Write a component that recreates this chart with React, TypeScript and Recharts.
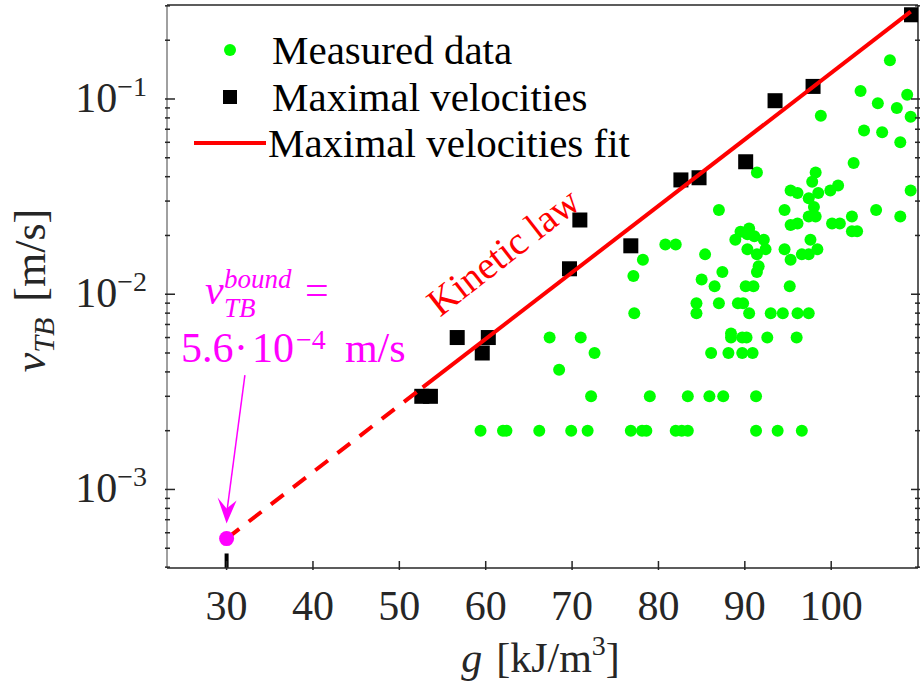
import { ScatterChart, Scatter, XAxis, YAxis, Legend, ReferenceLine, ReferenceDot } from 'recharts';

const FONT = '"Liberation Serif", "Times New Roman", serif';
const INK = '#262626';
const GREEN = '#00ff00';
const RED = '#ff0000';
const MAGENTA = '#ff00ff';

const X_DOMAIN = [23.1, 110.05];
const Y_DOMAIN = [3.96e-4, 0.303];
const X_TICKS = [30, 40, 50, 60, 70, 80, 90, 100];
const Y_MAJOR = [1e-3, 1e-2, 1e-1];
const Y_MAJOR_EXP = ['\u22123', '\u22122', '\u22121'];
const Y_MINOR = [
  4e-4, 5e-4, 6e-4, 7e-4, 8e-4, 9e-4,
  2e-3, 3e-3, 4e-3, 5e-3, 6e-3, 7e-3, 8e-3, 9e-3,
  2e-2, 3e-2, 4e-2, 5e-2, 6e-2, 7e-2, 8e-2, 9e-2,
  0.2, 0.3,
];
const Y_TICKS = [...Y_MINOR, ...Y_MAJOR].sort((a, b) => a - b);

// g [kJ/m3], v_TB [m/s]
const MEASURED: [number, number][] = [
  [106.8, 0.158], [103.4, 0.11], [108.8, 0.105], [105.4, 0.095], [107.6, 0.09], [109.2, 0.081],
  [98.8, 0.082], [103.8, 0.069], [105.9, 0.0675], [108.0, 0.06], [102.6, 0.047], [91.4, 0.042],
  [98.2, 0.042], [97.8, 0.0377], [100.8, 0.036], [95.3, 0.034], [99.9, 0.034], [109.2, 0.034],
  [96.1, 0.033], [98.5, 0.033], [97.4, 0.031], [98.0, 0.028], [87.0, 0.027], [94.6, 0.027],
  [105.2, 0.027], [97.4, 0.025], [98.2, 0.025], [102.4, 0.025], [108.0, 0.025], [95.3, 0.0226],
  [96.1, 0.023], [100.1, 0.023], [101.0, 0.023], [102.4, 0.021], [103.0, 0.021], [90.5, 0.0217],
  [89.5, 0.0209], [90.3, 0.0203], [91.1, 0.0198], [88.9, 0.019], [92.2, 0.019], [97.6, 0.019],
  [80.8, 0.018], [82.0, 0.018], [90.3, 0.017], [92.4, 0.017], [94.6, 0.017], [98.4, 0.017],
  [85.4, 0.016], [91.4, 0.016], [96.6, 0.016], [97.4, 0.016], [78.2, 0.015], [95.3, 0.015],
  [91.6, 0.0139], [87.4, 0.013], [91.4, 0.013], [77.1, 0.0124], [85.0, 0.0119], [86.5, 0.011],
  [90.1, 0.011], [91.0, 0.011], [95.2, 0.011], [84.4, 0.009], [87.0, 0.009], [89.2, 0.009],
  [89.8, 0.009], [77.2, 0.008], [84.4, 0.008], [90.5, 0.008], [93.0, 0.008], [94.4, 0.008],
  [96.1, 0.008], [97.4, 0.008], [67.4, 0.006], [71.0, 0.006], [88.4, 0.0063], [88.4, 0.006],
  [89.7, 0.006], [90.2, 0.006], [92.6, 0.006], [96.0, 0.006], [72.6, 0.005], [86.1, 0.005],
  [88.1, 0.005], [89.7, 0.005], [90.9, 0.005], [68.5, 0.0041], [72.2, 0.003], [79.0, 0.003],
  [83.4, 0.003], [85.9, 0.003], [87.5, 0.003], [91.3, 0.003], [59.4, 0.002], [62.0, 0.002],
  [62.4, 0.002], [66.2, 0.002], [69.9, 0.002], [71.8, 0.002], [76.8, 0.002], [78.1, 0.002],
  [78.6, 0.002], [82.0, 0.002], [82.7, 0.002], [83.4, 0.002], [91.3, 0.002], [93.8, 0.002],
  [96.6, 0.002],
];

const MAXIMAL: [number, number][] = [
  [52.6, 0.003], [53.6, 0.003], [56.7, 0.006], [59.6, 0.005], [60.3, 0.006], [69.7, 0.0135],
  [70.9, 0.024], [76.8, 0.0177], [82.6, 0.0385], [84.7, 0.0395], [90.1, 0.0477], [93.5, 0.098],
  [97.9, 0.116], [109.3, 0.27],
];

// exponential fit, extrapolated (dashed) down to the bound
const FIT_DASHED: [number, number][] = [[30, 5.6e-4], [52.7, 0.00333]];
const FIT_SOLID: [number, number][] = [[52.7, 0.00333], [109.2, 0.28]];
const BOUND: [number, number][] = [[30, 5.6e-4]];
const BOUND_TICK: [number, number][] = [[30, 3.96e-4], [30, 4.7e-4]];
const ARROW: [number, number][] = [[32.12, 0.00385], [30.05, 7.8e-4]];
const ARROW_TIP: [number, number] = [30, 6.7e-4];
const KINETIC_AT: [number, number] = [62.0, 0.0166];

const LEGEND_ITEMS = ['Measured data', 'Maximal velocities', 'Maximal velocities fit'];

const toPts = (arr: [number, number][]) => arr.map(([x, y]) => ({ x, y }));

const GreenDot = (p: any) => <circle cx={p.cx} cy={p.cy} r={6} fill={GREEN} />;
const BlackSquare = (p: any) => <rect x={p.cx - 7.5} y={p.cy - 7.5} width={15} height={15} fill="#000" />;
const MagentaDot = (p: any) => <circle cx={p.cx} cy={p.cy} r={7.5} fill={MAGENTA} />;
const NoMark = () => <g />;

const BottomTick = (p: any) => (
  <g>
    <line x1={p.x} x2={p.x} y1={p.y} y2={p.y - 9} stroke={INK} strokeWidth={1.5} />
    <text x={p.x} y={p.y + 50} textAnchor="middle" fontFamily={FONT} fontSize={42} fill={INK}>
      {p.payload.value}
    </text>
  </g>
);

const TopTick = (p: any) => (
  <line x1={p.x} x2={p.x} y1={p.y} y2={p.y + 9} stroke={INK} strokeWidth={1.5} />
);

const LeftTick = (p: any) => {
  const i = Y_MAJOR.indexOf(p.payload.value);
  const len = i >= 0 ? 10 : 5;
  return (
    <g>
      <line x1={p.x} x2={p.x + len} y1={p.y} y2={p.y} stroke={INK} strokeWidth={1.5} />
      {i >= 0 && (
        <text x={p.x - 18} y={p.y + 13} textAnchor="end" fontFamily={FONT} fontSize={42} fill={INK}>
          10
          <tspan dy={-16} fontSize={28}>{Y_MAJOR_EXP[i]}</tspan>
        </text>
      )}
    </g>
  );
};

const RightTick = (p: any) => {
  const len = Y_MAJOR.includes(p.payload.value) ? 9 : 5;
  return <line x1={p.x} x2={p.x - len} y1={p.y} y2={p.y} stroke={INK} strokeWidth={1.5} />;
};

const XLabel = (p: any) => {
  const vb = p.viewBox;
  return (
    <text x={vb.x + vb.width / 2 - 2} y={vb.y + 104} textAnchor="middle" fontFamily={FONT} fontSize={42} fill={INK}>
      <tspan fontStyle="italic">g</tspan>
      <tspan dx={14}>[kJ/m</tspan>
      <tspan dy={-17} fontSize={28}>3</tspan>
      <tspan dy={17}>]</tspan>
    </text>
  );
};

const YLabel = (p: any) => {
  const vb = p.viewBox;
  const cx = vb.x + 45;
  const cy = vb.y + vb.height / 2 + 4;
  return (
    <text x={cx} y={cy} transform={`rotate(-90 ${cx} ${cy})`} textAnchor="middle" fontFamily={FONT} fontSize={44} fill={INK}>
      <tspan fontStyle="italic">v</tspan>
      <tspan fontStyle="italic" fontSize={30} dy={9}>TB</tspan>
      <tspan dy={-9} dx={16}>[m/s]</tspan>
    </text>
  );
};

const KineticLabel = (p: any) => (
  <text
    x={p.cx}
    y={p.cy}
    dy="0.35em"
    transform={`rotate(-38 ${p.cx} ${p.cy})`}
    textAnchor="middle"
    fontFamily={FONT}
    fontSize={39}
    fill={RED}
  >
    Kinetic law
  </text>
);

const BoundLabel = (p: any) => {
  const { cx, cy } = p;
  return (
    <g fontFamily={FONT} fill={MAGENTA}>
      <text x={cx - 40} y={cy - 71} fontSize={42} fontStyle="italic">v</text>
      <text x={cx - 21} y={cy - 87} fontSize={27} fontStyle="italic">bound</text>
      <text x={cx - 21} y={cy - 58} fontSize={27} fontStyle="italic">TB</text>
      <text x={cx + 60} y={cy - 71} fontSize={42}>=</text>
      <text x={cx - 64} y={cy - 13} fontSize={42}>5.6</text>
      <text x={cx - 11} y={cy - 13} fontSize={42}>{'\u00b7'}</text>
      <text x={cx + 7} y={cy - 13} fontSize={42}>10</text>
      <text x={cx + 51} y={cy - 26} fontSize={28}>{'\u22124'}</text>
      <text x={cx + 100} y={cy - 13} fontSize={42}>m/s</text>
    </g>
  );
};

const ArrowHead = (p: any) => (
  <polygon
    points={`${p.cx},${p.cy} ${p.cx - 9},${p.cy - 26} ${p.cx},${p.cy - 15} ${p.cx + 10},${p.cy - 23}`}
    fill={MAGENTA}
  />
);

const LegendBox = () => (
  <div style={{ fontFamily: FONT, fontSize: 41, color: '#000' }}>
    {LEGEND_ITEMS.map((name, i) => (
      <div key={name} style={{ display: 'flex', alignItems: 'center', height: 46.5, whiteSpace: 'nowrap' }}>
        <svg width={80} height={46}>
          {i === 0 && <circle cx={40} cy={23} r={6} fill={GREEN} />}
          {i === 1 && <rect x={33} y={16} width={14} height={14} fill="#000" />}
          {i === 2 && <line x1={4} x2={76} y1={23} y2={23} stroke={RED} strokeWidth={4} />}
        </svg>
        <span style={{ marginLeft: 2 }}>{name}</span>
      </div>
    ))}
  </div>
);

export default function App() {
  return (
    <div style={{ position: 'absolute', left: 0, top: 0, width: 922, height: 692, background: '#fff' }}>
      <ScatterChart width={922} height={692} margin={{ top: 4, right: 3, bottom: 0, left: 0 }}>
        <XAxis
          dataKey="x"
          type="number"
          domain={X_DOMAIN}
          ticks={X_TICKS}
          interval={0}
          allowDataOverflow
          height={124}
          tickSize={0}
          tickLine={false}
          axisLine={{ stroke: INK, strokeWidth: 1.5 }}
          tick={BottomTick}
          label={XLabel}
        />
        <XAxis
          xAxisId="top"
          orientation="top"
          type="number"
          domain={X_DOMAIN}
          ticks={X_TICKS}
          interval={0}
          allowDataOverflow
          height={1}
          tickSize={0}
          tickLine={false}
          axisLine={{ stroke: INK, strokeWidth: 1.5 }}
          tick={TopTick}
        />
        <YAxis
          dataKey="y"
          type="number"
          scale="log"
          domain={Y_DOMAIN}
          ticks={Y_TICKS}
          interval={0}
          allowDataOverflow
          width={167}
          tickSize={0}
          tickLine={false}
          axisLine={{ stroke: '#808080', strokeWidth: 1.5 }}
          tick={LeftTick}
          label={YLabel}
        />
        <YAxis
          yAxisId="right"
          orientation="right"
          type="number"
          scale="log"
          domain={Y_DOMAIN}
          ticks={Y_TICKS}
          interval={0}
          allowDataOverflow
          width={1}
          tickSize={0}
          tickLine={false}
          axisLine={{ stroke: INK, strokeWidth: 1.5 }}
          tick={RightTick}
        />
        <Legend
          layout="vertical"
          align="center"
          verticalAlign="middle"
          content={LegendBox}
          wrapperStyle={{ left: 190, top: 27, width: 440 }}
        />
        <Scatter name="Measured data" data={toPts(MEASURED)} shape={GreenDot} isAnimationActive={false} />
        <Scatter name="Maximal velocities" data={toPts(MAXIMAL)} shape={BlackSquare} isAnimationActive={false} />
        <Scatter
          name="fit extrapolation"
          data={toPts(FIT_DASHED)}
          shape={NoMark}
          line={{ stroke: RED, strokeWidth: 4, strokeDasharray: '16 12' }}
          isAnimationActive={false}
        />
        <Scatter
          name="Maximal velocities fit"
          data={toPts(FIT_SOLID)}
          shape={NoMark}
          line={{ stroke: RED, strokeWidth: 4 }}
          isAnimationActive={false}
        />
        <ReferenceLine segment={toPts(BOUND_TICK)} stroke="#000" strokeWidth={4} />
        <ReferenceLine segment={toPts(ARROW)} stroke={MAGENTA} strokeWidth={1.5} />
        <ReferenceDot x={ARROW_TIP[0]} y={ARROW_TIP[1]} r={1} shape={ArrowHead} />
        <ReferenceDot x={ARROW[0][0]} y={ARROW[0][1]} r={1} shape={BoundLabel} />
        <ReferenceDot x={KINETIC_AT[0]} y={KINETIC_AT[1]} r={1} shape={KineticLabel} />
        <Scatter name="bound" data={toPts(BOUND)} shape={MagentaDot} isAnimationActive={false} />
      </ScatterChart>
    </div>
  );
}
